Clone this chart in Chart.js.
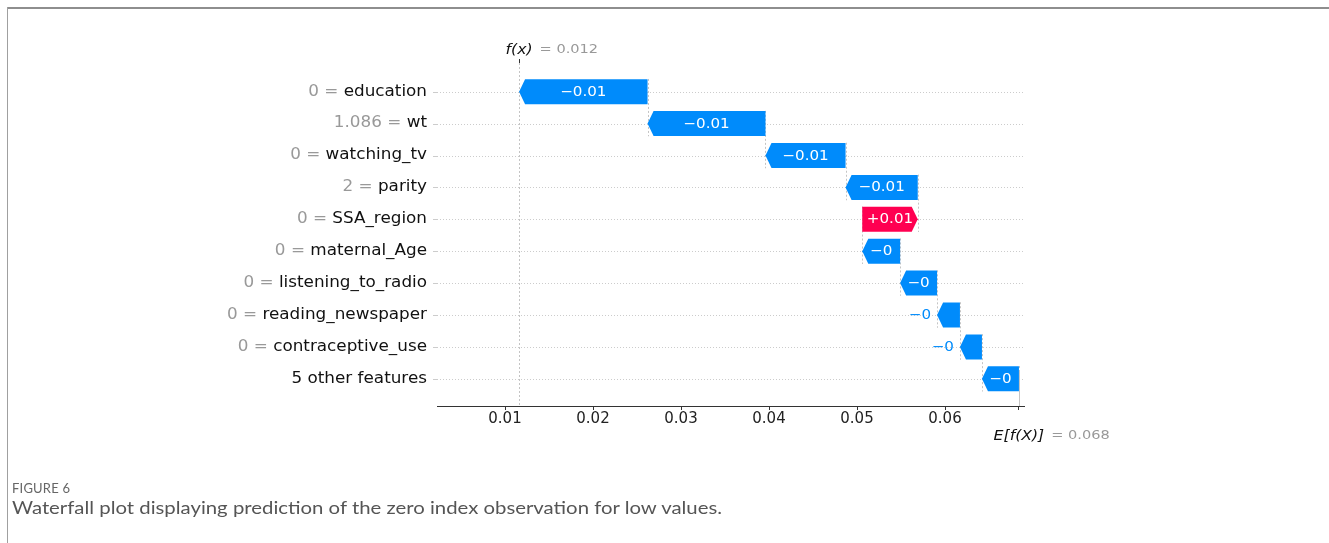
<!DOCTYPE html>
<html>
<head>
<meta charset="utf-8">
<script src="https://cdn.jsdelivr.net/npm/chart.js@4.4.1/dist/chart.umd.min.js"></script>
<style>
  html, body { margin: 0; padding: 0; background: #fff; width: 1329px; height: 543px; overflow: hidden; }
  #chart { position: absolute; left: 0; top: 0; }
  .frame-top { position: absolute; left: 7px; top: 7px; width: 1322px; height: 2px; background: #8e8e8e; }
  .frame-left { position: absolute; left: 7px; top: 7px; width: 1px; height: 536px; background: #a0a0a0; }
  .fig-num { position: absolute; left: 12px; top: 480px; font: 13px Lato, sans-serif; color: #666; white-space: nowrap; letter-spacing: 0.2px; }
  .fig-cap { position: absolute; left: 12px; top: 497px; font: 17.5px Lato, sans-serif; color: #555; white-space: nowrap; transform-origin: 0 0; }
</style>
</head>
<body>
<div class="frame-top"></div>
<div class="frame-left"></div>
<canvas id="chart" width="1329" height="543"></canvas>
<div class="fig-num">FIGURE 6</div>
<div class="fig-cap" id="cap">Waterfall plot displaying prediction of the zero index observation for low values.</div>
<script>
// Features from top to bottom, their observed values and SHAP contributions
const FEATURE_NAMES = ['education', 'wt', 'watching_tv', 'parity', 'SSA_region', 'maternal_Age',
  'listening_to_radio', 'reading_newspaper', 'contraceptive_use', '5 other features'];
const FEATURE_VALUES = ['0', '1.086', '0', '2', '0', '0', '0', '0', '0', ''];
const SHAP_VALUES = [-0.0146, -0.0134, -0.0091, -0.0082, 0.0063, -0.0043, -0.0042, -0.0026, -0.0025, -0.0042];
const BASE_VALUE = 0.0684;          // E[f(X)]
const X_TICKS = [0.01, 0.02, 0.03, 0.04, 0.05, 0.06];

const BLUE = '#008bfb';
const RED = '#ff0051';
const N = FEATURE_NAMES.length;
const SX = 1.12;                    // horizontal text stretch of the figure

// Waterfall segments, accumulated upward from the expected value
const segments = new Array(N);
let running = BASE_VALUE;
for (let i = N - 1; i >= 0; i--) {
  segments[i] = [running, running + SHAP_VALUES[i]];
  running += SHAP_VALUES[i];
}
const FX = running;                 // f(x)

function fmtShap(v) {
  let s = (v >= 0 ? '+' : '-') + Math.abs(v).toFixed(2);
  s = s.replace(/0+$/, '').replace(/\.$/, '');
  return s.replace('-', '\u2212');
}

function stretchText(ctx, text, x, y, align) {
  ctx.save();
  ctx.translate(x, y);
  ctx.scale(SX, 1);
  ctx.textAlign = align;
  ctx.fillText(text, 0, 0);
  ctx.restore();
}
function textW(ctx, text) { return ctx.measureText(text).width * SX; }

const waterfallPlugin = {
  id: 'waterfall',
  beforeDatasetsDraw(chart) {
    const { ctx, chartArea: a, scales: { x, y } } = chart;
    ctx.save();
    ctx.beginPath();
    ctx.rect(a.left, a.top, a.right - a.left, a.bottom - a.top);
    ctx.clip();
    // dotted row guides
    ctx.strokeStyle = '#cccccc';
    ctx.lineWidth = 1;
    ctx.setLineDash([1, 2]);
    for (let i = 0; i < N; i++) {
      const py = Math.round(y.getPixelForValue(i)) + 0.5;
      ctx.beginPath(); ctx.moveTo(a.left, py); ctx.lineTo(a.right, py); ctx.stroke();
    }
    // dashed connectors between consecutive bars
    ctx.strokeStyle = '#c4c4c4';
    ctx.setLineDash([2, 2]);
    for (let i = 0; i < N; i++) {
      const px = Math.round(x.getPixelForValue(segments[i][0])) + 0.5;
      ctx.beginPath();
      ctx.moveTo(px, y.getPixelForValue(i - 0.4));
      ctx.lineTo(px, y.getPixelForValue(i + 1.4));
      ctx.stroke();
    }
    // f(x) across the full height, E[f(X)] over the lowest row
    const fxp = Math.round(x.getPixelForValue(FX)) + 0.5;
    ctx.beginPath(); ctx.moveTo(fxp, a.top); ctx.lineTo(fxp, a.bottom); ctx.stroke();
    const bp = Math.round(x.getPixelForValue(BASE_VALUE)) + 0.5;
    ctx.beginPath(); ctx.moveTo(bp, a.bottom); ctx.lineTo(bp, a.bottom - (a.bottom - a.top) / N); ctx.stroke();
    ctx.restore();
  },
  afterDatasetsDraw(chart) {
    const { ctx, scales: { x } } = chart;
    const meta = chart.getDatasetMeta(0);
    ctx.save();
    meta.data.forEach((el, i) => {
      const base = x.getPixelForValue(segments[i][0]);
      const tip = x.getPixelForValue(segments[i][1]);
      const yc = el.y, h = el.height;
      const dir = Math.sign(tip - base) || 1;
      const len = Math.abs(tip - base);
      const head = Math.min(6, len);
      const top = yc - h / 2, bot = yc + h / 2;
      ctx.fillStyle = SHAP_VALUES[i] >= 0 ? RED : BLUE;
      ctx.beginPath();
      ctx.moveTo(base, top);
      ctx.lineTo(tip - dir * head, top);
      ctx.lineTo(tip, yc);
      ctx.lineTo(tip - dir * head, bot);
      ctx.lineTo(base, bot);
      ctx.closePath();
      ctx.fill();

      const label = fmtShap(SHAP_VALUES[i]);
      ctx.font = '13.5px "DejaVu Sans"';
      ctx.textBaseline = 'middle';
      const tw = textW(ctx, label);
      if (tw + 8 <= len) {
        ctx.fillStyle = '#ffffff';
        stretchText(ctx, label, (tip + base) / 2, yc + 0.5, 'center');
      } else {
        ctx.fillStyle = SHAP_VALUES[i] >= 0 ? RED : BLUE;
        if (dir < 0) stretchText(ctx, label, tip - 6, yc + 0.5, 'right');
        else stretchText(ctx, label, tip + 6, yc + 0.5, 'left');
      }
    });
    ctx.restore();
  },
  afterDraw(chart) {
    const { ctx, chartArea: a, scales: { x, y } } = chart;
    ctx.save();
    // feature labels: gray value, black name
    ctx.font = '15px "DejaVu Sans"';
    ctx.textBaseline = 'middle';
    const right = a.left - 10;
    for (let i = 0; i < N; i++) {
      const py = y.getPixelForValue(i);
      ctx.fillStyle = '#111111';
      stretchText(ctx, FEATURE_NAMES[i], right, py, 'right');
      if (FEATURE_VALUES[i] !== '') {
        const nw = textW(ctx, FEATURE_NAMES[i]);
        ctx.fillStyle = '#999999';
        stretchText(ctx, FEATURE_VALUES[i] + ' = ', right - nw, py, 'right');
      }
      // small row ticks
      ctx.strokeStyle = '#cccccc';
      ctx.lineWidth = 1;
      const ty = Math.round(py) + 0.5;
      ctx.beginPath(); ctx.moveTo(a.left - 4, ty); ctx.lineTo(a.left, ty); ctx.stroke();
    }
    // f(x) marker on top edge
    const fxp = Math.round(x.getPixelForValue(FX)) + 0.5;
    ctx.strokeStyle = '#333333';
    ctx.beginPath(); ctx.moveTo(fxp, a.top - 4); ctx.lineTo(fxp, a.top); ctx.stroke();

    function markLabel(name, value, px, py) {
      ctx.font = 'italic 14px "DejaVu Sans"';
      ctx.fillStyle = '#111111';
      const nw = textW(ctx, name);
      stretchText(ctx, name, px, py, 'center');
      ctx.font = '13px "DejaVu Sans"';
      ctx.fillStyle = '#999999';
      stretchText(ctx, '= ' + value, px + nw / 2 + 7, py, 'left');
    }
    markLabel('f(x)', FX.toFixed(3), x.getPixelForValue(FX), a.top - 13);
    markLabel('E[f(X)]', BASE_VALUE.toFixed(3), x.getPixelForValue(BASE_VALUE), a.bottom + 30);
    ctx.restore();
  }
};

new Chart(document.getElementById('chart'), {
  type: 'bar',
  data: {
    datasets: [{
      data: segments.map((s, i) => ({ x: s, y: i })),
      backgroundColor: 'rgba(0,0,0,0)',
      borderWidth: 0,
      barThickness: 25
    }]
  },
  options: {
    indexAxis: 'y',
    responsive: false,
    devicePixelRatio: 1,
    animation: false,
    events: [],
    layout: { padding: { left: 437, right: 305, top: 63, bottom: 0 } },
    plugins: { legend: { display: false }, tooltip: { enabled: false } },
    scales: {
      x: {
        type: 'linear',
        position: 'bottom',
        min: 0.01 - 68 / 8800,
        max: 0.01 + 519 / 8800,
        afterBuildTicks: (axis) => { axis.ticks = [...X_TICKS, BASE_VALUE].map(v => ({ value: v })); },
        afterFit: (scale) => { scale.height = 543 - 406; },
        ticks: {
          autoSkip: false,
          maxRotation: 0,
          padding: 0,
          color: '#222222',
          font: { family: 'DejaVu Sans', size: 15 },
          callback: (v) => (X_TICKS.includes(v) ? v.toFixed(2) : '')
        },
        grid: { drawOnChartArea: false, drawTicks: true, tickLength: 4, tickColor: '#333333', tickWidth: 1 },
        border: { display: true, color: '#333333', width: 1 }
      },
      y: {
        type: 'linear',
        reverse: true,
        offset: false,
        min: -0.9,
        max: 9.853,
        display: false
      }
    }
  },
  plugins: [waterfallPlugin]
});

// caption width
const cap = document.getElementById('cap');
cap.style.transform = 'scaleX(' + (710 / cap.scrollWidth) + ')';
</script>
</body>
</html>
